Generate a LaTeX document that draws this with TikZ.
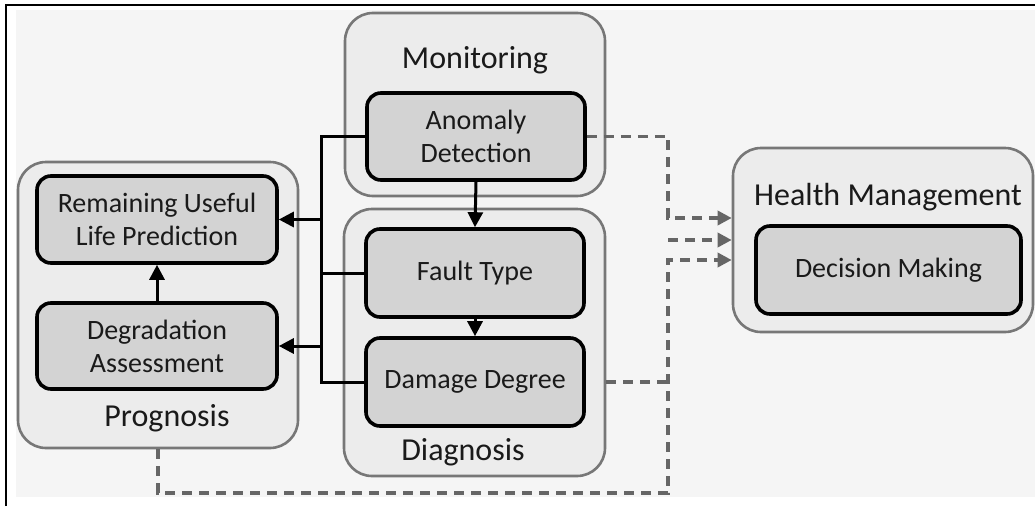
\documentclass[tikz,border=0pt]{standalone}
\usepackage{fontspec}
\setmainfont{Carlito}
\usetikzlibrary{arrows.meta}
\definecolor{boxfill}{HTML}{D3D3D3}
\definecolor{groupfill}{HTML}{ECECEC}
\definecolor{groupline}{HTML}{777777}
\definecolor{dashcol}{HTML}{666666}
\definecolor{bgfill}{HTML}{F5F5F5}
\definecolor{txt}{HTML}{1A1A1A}
\tikzset{
  group/.style={draw=groupline, line width=2.6pt, fill=groupfill,
    rounded corners=28pt, inner sep=0pt},
  task/.style={draw=black, line width=3.6pt, fill=boxfill, rounded corners=14pt,
    minimum width=218pt, minimum height=87pt, align=center, text=txt,
    font=\fontsize{28}{33}\selectfont},
  title/.style={text=txt, font=\fontsize{32}{36}\selectfont},
  link/.style={line width=3pt, -{Triangle[length=15pt,width=15pt]}},
  plain/.style={line width=3pt},
  dline/.style={draw=dashcol, line width=3.4pt, dash pattern=on 10pt off 7pt,
    -{Triangle[length=14pt,width=14pt]}},
  dplain/.style={draw=dashcol, line width=3.4pt, dash pattern=on 10pt off 7pt}
}
\begin{document}
\begin{tikzpicture}[x=1pt,y=-1pt]
  % Rahmen und Hintergrund
  \useasboundingbox (0,0) rectangle (1035,506);
  \fill[white] (0,0) rectangle (1035,506);
  \fill[bgfill] (16,10) rectangle (1035,497);
  \draw[line width=2.4pt] (6,506) -- (6,5) -- (1035,5);

  % Gruppen
  \node[group, minimum width=260pt, minimum height=183pt] (Monitoring) at (475,104.5) {};
  \node[group, minimum width=261pt, minimum height=267pt] (Diagnosis) at (474.5,342.5) {};
  \node[group, minimum width=280pt, minimum height=286pt] (Prognosis) at (158,305) {};
  \node[group, minimum width=300pt, minimum height=184pt] (Health) at (883,240) {};

  % Titel
  \node[title] (tMon) at (475,60) {Monitoring};
  \node[title] (tDia) at (463,452) {Diagnosis};
  \node[title] (tPro) at (167,418) {Prognosis};
  \node[title] (tHea) at (888,197) {Health Management};

  % Aufgaben
  \node[task] (Anomaly) at (476,136.5) {Anomaly\\Detection};
  \node[task, minimum height=88pt] (Fault) at (475,273) {Fault Type};
  \node[task, minimum height=88pt] (Damage) at (475,382) {Damage Degree};
  \node[task, minimum width=240pt] (RUL) at (157,219.5) {Remaining Useful\\Life Prediction};
  \node[task, minimum width=240pt, minimum height=86pt] (Degradation) at (157,346) {Degradation\\Assessment};
  \node[task, minimum width=265pt, minimum height=88pt] (Decision) at (888.5,270) {Decision Making};

  % Hilfspunkte
  \coordinate (bus) at (321,0);
  \coordinate (dbus) at (668,0);
  \coordinate (dlow) at (668,493);

  % Durchgezogene Pfeile
  \draw[link] (Anomaly.south) -- (Fault.north);
  \draw[link] (Fault.south) -- (Damage.north);
  \draw[link] (Degradation.north) -- (RUL.south);
  \draw[plain] (Anomaly.west) -- (Anomaly.west -| bus) -- (Damage.west -| bus) -- (Damage.west);
  \draw[plain] (Fault.west) -- (Fault.west -| bus);
  \draw[link] (bus |- RUL.east) -- (RUL.east);
  \draw[link] (bus |- Degradation.east) -- (Degradation.east);

  % Gestrichelte Pfeile
  \draw[dline] (Anomaly.east) -- (Anomaly.east -| dbus) |- ([yshift=22pt]Health.west);
  \draw[dline] (dbus |- Health.west) -- (Health.west);
  \draw[dline] (Prognosis.south) |- (dlow) |- ([yshift=-20pt]Health.west);
  \draw[dplain] (Diagnosis.east |- Damage.east) -- (dbus |- Damage.east);
\end{tikzpicture}
\end{document}
